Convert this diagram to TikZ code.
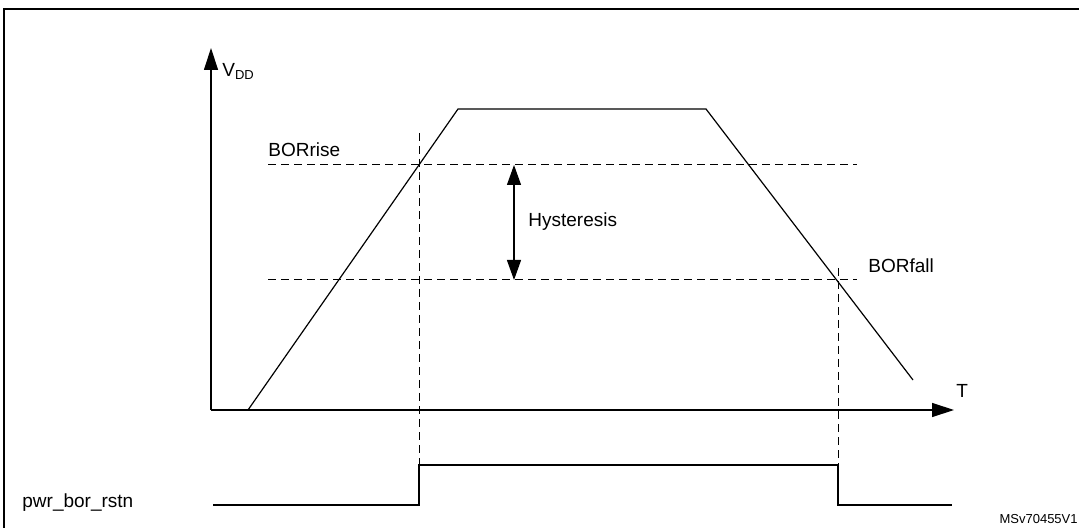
\documentclass[tikz,border=0pt]{standalone}
\usepackage{fontspec}
\setmainfont{Liberation Sans}
\usetikzlibrary{arrows.meta}
\begin{document}
\begin{tikzpicture}[x=0.5pt,y=-0.5pt,
  lbl/.style={font=\fontsize{9.5}{11}\selectfont,inner sep=0pt},
  guide/.style={dashed,dash pattern=on 4pt off 2.5pt,line width=0.5pt},
  sig/.style={line width=0.6pt},
  tip/.style={-{Triangle[length=11pt,width=7pt]},line width=0.6pt}]
  \useasboundingbox (0,0) rectangle (1079,528);
  \clip (0,0) rectangle (1079,528);
  \draw[line width=1.2pt] (4,9) rectangle (1090,540);
  % axes
  \coordinate (o) at (211,410);
  \coordinate (ytop) at (211,48);
  \coordinate (xend) at (954,410);
  \draw[tip] (o) -- (ytop);
  \draw[tip] (o) -- (xend);
  \node[lbl,anchor=south west] (vdd) at (222,80) {V\textsubscript{\fontsize{6.5}{7}\selectfont DD}};
  \node[lbl,anchor=south west] (t) at (956,398) {T};
  % supply curve
  \draw[sig] (248,410) -- (458,109) -- (706,109) -- (913,380);
  % thresholds
  \draw[guide] (268,165) -- (857,165);
  \draw[guide] (268,280) -- (857,280);
  \node[lbl,anchor=south west] (rise) at (268,157) {BORrise};
  \node[lbl,anchor=south west] (fall) at (868,273) {BORfall};
  \draw[guide] (419,133) -- (419,468);
  \draw[guide] (838,268) -- (838,468);
  \coordinate (hA) at (514,165);
  \coordinate (hB) at (514,280);
  \draw[{Triangle[length=10pt,width=7pt]}-{Triangle[length=10pt,width=7pt]},line width=0.6pt] (hA) -- (hB);
  \node[lbl,anchor=west] (hys) at (528,222) {Hysteresis};
  % reset signal
  \node[lbl,anchor=west] (rstn) at (22,503) {pwr\_bor\_rstn};
  \draw[sig] (213,505) -- (419,505) -- (419,465) -- (838,465) -- (838,505) -- (952,505);
  \node[font=\fontsize{6.5}{7}\selectfont,inner sep=0pt,anchor=east] (ref) at (1078,519) {MSv70455V1};
\end{tikzpicture}
\end{document}
